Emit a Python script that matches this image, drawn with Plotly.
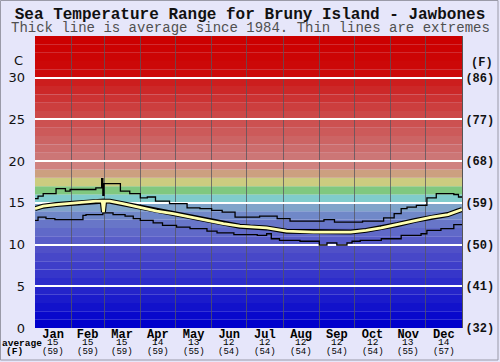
import plotly.graph_objects as go
import numpy as np

# ---------------- data ----------------
months = ["Jan", "Feb", "Mar", "Apr", "May", "Jun", "Jul", "Aug", "Sep", "Oct", "Nov", "Dec"]
month_days = [31, 28, 31, 30, 31, 30, 31, 31, 30, 31, 30, 31]
avg_c_labels = ["15", "15", "15", "14", "13", "12", "12", "12", "12", "12", "13", "14"]
avg_f_labels = ["(59)", "(59)", "(59)", "(59)", "(55)", "(54)", "(54)", "(54)", "(54)", "(54)", "(55)", "(57)"]

c_ticks = [0, 5, 10, 15, 20, 25, 30]
f_ticks = ["(32)", "(41)", "(50)", "(59)", "(68)", "(77)", "(86)"]

max_day = [0, 2.6, 7, 18, 26, 30, 52, 57, 58, 59, 73, 81, 90, 96, 103, 115, 130, 141, 151, 160,
           171, 192, 207, 218, 247, 256, 280, 298, 307, 313, 318, 326, 335, 343, 358, 362, 365]
max_temp = [15.5, 15.8, 16.1, 16.7, 16.4, 16.6, 16.8, 17.9, 15.9, 17.3, 16.4, 16.1, 15.6, 15.7, 15.2, 14.9, 14.4, 14.3, 14.1, 13.9,
            13.3, 13.4, 13.1, 12.8, 13.0, 12.7, 12.8, 13.2, 13.7, 14.3, 14.5, 14.7, 15.6, 16.1, 16.0, 15.7, 15.7]

min_day = [0, 2.6, 9.4, 17, 41, 43.6, 58, 66.7, 77, 84, 90, 101, 109, 121, 132.5, 147, 155.6, 170, 190, 198,
           202, 209, 226.5, 243, 249.6, 258, 266.7, 271, 278, 296, 313, 330, 335, 347, 358, 365]
min_temp = [12.9, 13.3, 13.1, 13.0, 13.5, 13.6, 13.8, 13.6, 13.4, 13.1, 12.9, 12.6, 12.3, 12.1, 11.9, 11.6, 11.4, 11.2, 11.1, 11.3,
            10.7, 10.5, 10.4, 9.95, 10.2, 9.95, 10.2, 10.4, 10.5, 10.7, 11.1, 11.3, 11.7, 11.9, 12.4, 12.4]

avg_day = [0, 7, 18, 30, 41, 52, 57.5, 58.5, 59.5, 64, 75, 92, 104, 118, 132, 147, 161, 175, 184, 198,
           215, 238, 270, 283, 296, 310, 325, 339, 353, 361, 365]
avg_temp = [14.3, 14.6, 14.8, 14.95, 15.1, 15.2, 15.2, 13.9, 15.2, 15.2, 14.9, 14.4, 14.0, 13.7, 13.3, 12.9, 12.5, 12.2, 12.1, 12.0,
            11.6, 11.5, 11.5, 11.7, 12.0, 12.4, 12.9, 13.3, 13.6, 14.0, 14.2]

# ---------------- derived positions ----------------
bounds = np.concatenate([[0], np.cumsum(month_days)])
mids = (bounds[:-1] + bounds[1:]) / 2.0

Y_MAX = 35
MONO = "Liberation Mono"

# colour scale for the background bands (style)
anchors = [
    (0.5, (0, 0, 204)),
    (5.5, (45, 45, 202)),
    (9.5, (80, 80, 200)),
    (12.5, (104, 118, 200)),
    (13.5, (112, 136, 200)),
    (14.5, (128, 164, 202)),
    (15.5, (128, 204, 204)),
    (16.5, (128, 200, 128)),
    (17.5, (204, 204, 128)),
    (18.5, (204, 160, 128)),
    (19.5, (208, 130, 128)),
    (20.5, (204, 118, 118)),
    (25.5, (204, 72, 72)),
    (29.5, (204, 30, 30)),
    (30.5, (204, 10, 10)),
    (34.5, (204, 0, 0)),
]


def band_color(t):
    ts = [a[0] for a in anchors]
    cols = np.array([a[1] for a in anchors], dtype=float)
    rgb = [np.interp(t, ts, cols[:, k]) for k in range(3)]
    return "rgb(%d,%d,%d)" % tuple(int(round(v)) for v in rgb)


fig = go.Figure()

shapes = []
for t in range(Y_MAX):
    shapes.append(dict(type="rect", xref="paper", yref="y", x0=0, x1=1, y0=t, y1=t + 1,
                       fillcolor=band_color(t + 0.5), line=dict(width=0), layer="below"))

# outer frame around whole image
L, R, T, B, W, H = 35, 38, 36, 34, 500, 362
pw, ph = W - L - R, H - T - B
shapes.append(dict(type="rect", xref="paper", yref="paper",
                   x0=(0.5 - L) / pw, x1=(498 - L) / pw,
                   y0=(H - B - 360) / ph, y1=(H - B - 0.5) / ph,
                   line=dict(color="#9a9aa8", width=1), fillcolor="rgba(0,0,0,0)", layer="above"))

# traces
fig.add_trace(go.Scatter(x=max_day, y=max_temp, mode="lines", line=dict(color="black", width=1.3, shape="hv"),
                         hoverinfo="skip", showlegend=False))
fig.add_trace(go.Scatter(x=min_day, y=min_temp, mode="lines", line=dict(color="black", width=1.3, shape="hv"),
                         hoverinfo="skip", showlegend=False))
fig.add_trace(go.Scatter(x=avg_day, y=avg_temp, mode="lines", line=dict(color="black", width=5),
                         hoverinfo="skip", showlegend=False))
fig.add_trace(go.Scatter(x=avg_day, y=avg_temp, mode="lines", line=dict(color="#FFFFB0", width=2.8),
                         hoverinfo="skip", showlegend=False))
# carrier for the Fahrenheit axis
fig.add_trace(go.Scatter(x=[None], y=[None], yaxis="y2", showlegend=False, hoverinfo="skip"))

annotations = []
annotations.append(dict(text="Thick line is average since 1984. Thin lines are extremes",
                        xref="paper", yref="paper", x=(250 - L) / pw, y=(H - B - 28) / ph,
                        showarrow=False, xanchor="center", yanchor="middle",
                        font=dict(family=MONO, size=14, color="#505050")))
for m, c, f in zip(mids, avg_c_labels, avg_f_labels):
    annotations.append(dict(text=c, xref="x", yref="paper", x=m, y=(H - B - 342.5) / ph,
                            showarrow=False, xanchor="center", yanchor="middle",
                            font=dict(family=MONO, size=9.5, color="black")))
    annotations.append(dict(text=f, xref="x", yref="paper", x=m, y=(H - B - 352) / ph,
                            showarrow=False, xanchor="center", yanchor="middle",
                            font=dict(family=MONO, size=9, color="black")))
annotations.append(dict(text="<b>average</b>", xref="paper", yref="paper", x=(22 - L) / pw, y=(H - B - 343) / ph,
                        showarrow=False, xanchor="center", yanchor="middle",
                        font=dict(family=MONO, size=9.5, color="black")))
annotations.append(dict(text="<b>(F)</b>", xref="paper", yref="paper", x=(14 - L) / pw, y=(H - B - 352) / ph,
                        showarrow=False, xanchor="center", yanchor="middle",
                        font=dict(family=MONO, size=9.5, color="black")))
annotations.append(dict(text="C", xref="paper", yref="y", x=(18 - L) / pw, y=32.1,
                        showarrow=False, xanchor="center", yanchor="middle",
                        font=dict(family="DejaVu Sans", size=13, color="#111111")))
annotations.append(dict(text="<b>(F)</b>", xref="paper", yref="y", x=(482 - L) / pw, y=31.8,
                        showarrow=False, xanchor="center", yanchor="middle",
                        font=dict(family=MONO, size=12, color="#111111")))

fig.update_layout(
    width=W, height=H,
    margin=dict(l=L, r=R, t=T, b=B, pad=0, autoexpand=False),
    paper_bgcolor="#E6E6FA", plot_bgcolor="#E6E6FA",
    showlegend=False,
    title=dict(text="<b>Sea Temperature Range for Bruny Island - Jawbones</b>",
               x=0.5, xref="container", xanchor="center",
               y=1 - 13 / H, yref="container", yanchor="middle",
               font=dict(family=MONO, size=16, color="#111111")),
    xaxis=dict(range=[0, 365], tickmode="array", tickvals=list(mids),
               ticktext=["<b>%s</b>" % m for m in months],
               tickfont=dict(family=MONO, size=12, color="black"),
               showgrid=False, zeroline=False, ticks="", ticklabelstandoff=-3,
               automargin=False,
               minor=dict(tickvals=list(bounds[1:-1]), showgrid=True,
                          gridcolor="rgba(85,85,95,0.75)", gridwidth=1, ticks=""),
               fixedrange=True),
    yaxis=dict(range=[0, Y_MAX], tickmode="array", tickvals=c_ticks,
               ticktext=[str(v) for v in c_ticks],
               tickfont=dict(family="DejaVu Sans", size=13, color="#111111"),
               showgrid=False, zeroline=False, ticks="", ticklabelstandoff=9,
               automargin=False,
               minor=dict(tickvals=c_ticks[1:], showgrid=True, gridcolor="white", gridwidth=2, ticks=""),
               fixedrange=True),
    yaxis2=dict(range=[0, Y_MAX], overlaying="y", side="right", tickmode="array",
                tickvals=c_ticks, ticktext=["<b>%s</b>" % s for s in f_ticks],
                tickfont=dict(family=MONO, size=12, color="#111111"),
                showgrid=False, zeroline=False, ticks="", showline=True, automargin=False,
                linecolor="#555555", linewidth=1, fixedrange=True),
    shapes=shapes,
    annotations=annotations,
)

fig.write_html("out.html", config={"displayModeBar": False})

# remove the browser's default page margin so the figure sits at the window's top-left
with open("out.html", "r", encoding="utf-8") as fh:
    html = fh.read()
html = html.replace("<head>", "<head><style>html,body{margin:0;padding:0;overflow:hidden;}</style>", 1)
with open("out.html", "w", encoding="utf-8") as fh:
    fh.write(html)
